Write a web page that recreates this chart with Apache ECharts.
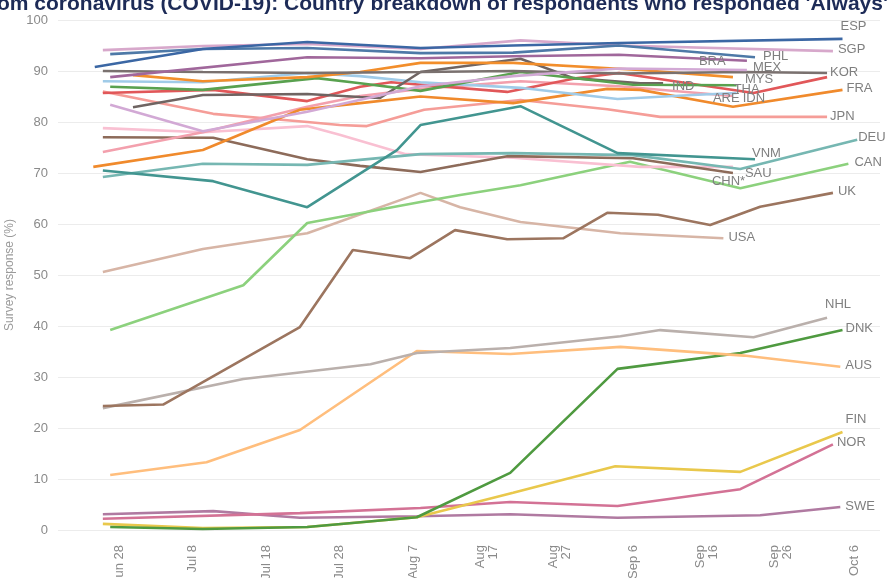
<!DOCTYPE html>
<html><head><meta charset="utf-8">
<script src="https://cdn.jsdelivr.net/npm/echarts@6/dist/echarts.min.js"></script>
<style>html,body{margin:0;padding:0;background:#fff}#c{width:887px;height:578px}</style>
</head><body><div id="c"></div>
<script>
// x = days after 28 June, y = % answering "Always"
const tickDays = [0,10,20,30,40,50,60,70,80,90,100];
const tickLabels = ['Jun 28','Jul 8','Jul 18','Jul 28','Aug 7','Aug\n17','Aug\n27','Sep 6','Sep\n16','Sep\n26','Oct 6'];
const yTicks = [0,10,20,30,40,50,60,70,80,90,100];

const ESP = [[-3.3,90.8],[11.4,94.3],[25.6,95.7],[41,94.5],[53.6,95],[68,95.5],[98.4,96.3]];
const PHL = [[-1.2,93.3],[11.4,94.3],[25.6,94.5],[41,93.5],[53.6,93.6],[68,95],[86.5,92.7]];
const SGP = [[-2.2,94.1],[11.4,94.9],[25.6,95.3],[41,94.3],[54.6,96],[68,95],[97.1,93.9]];
const BRA = [[-1.2,88.8],[25.6,92.7],[41,92.5],[53.6,92.9],[68,93.2],[85.4,92]];
const MEX = [[-1.2,83.4],[11.4,78.2],[25.6,82],[41,87],[53.6,89],[68,90.5],[85.4,90.2]];
const KOR = [[-2.2,90],[11.4,89.8],[25.6,89.6],[41,89.8],[53.6,90],[68,89.5],[85,89.8],[96.3,89.6]];
const MYS = [[1.9,89.2],[11.4,88],[25.6,88.8],[32.8,89.8],[41,91.6],[53.6,91.6],[70.9,90.2],[83.5,88.8]];
const THA = [[-1.2,86.9],[11.4,86.3],[26.9,88.6],[32.8,87.6],[41,86.1],[54.6,89.8],[69.9,87.3],[84,87.2]];
const IND = [[1.9,82.9],[11.4,85.3],[25.6,85.5],[32.8,84.9],[35.5,84.7],[41,89.8],[54.6,92.4],[61.8,88.6],[70.9,87.6],[74,87.6]];
const ARE = [[-2.2,74.1],[11.4,78],[25.6,83],[32.8,85.1],[41,86.5],[54.6,88],[68,87],[83.5,85.1]];
const IDN = [[-2.2,88],[11.4,87.8],[25.6,89.6],[32.8,89],[41,87.8],[54.6,86.7],[67.8,84.5],[78,85.3],[84,85.7]];
const FRA = [[-3.5,71.2],[11.4,74.5],[24.6,82.4],[32.8,83.7],[41,85],[53.6,83.7],[66.4,86.5],[70.9,86.3],[83.5,83],[98.4,86.3]];
const JPN = [[-2.2,86],[12.8,81.6],[25.6,80],[30,79.4],[33.7,79.2],[41.5,82.4],[54.6,84.3],[66.4,82.5],[73.6,81],[96.3,81]];
const ITA = [[-2.2,85.7],[12.8,86.3],[25.6,84.1],[32.8,86.9],[37,87.8],[52.8,85.9],[61.8,88.5],[68,89.6],[86.3,85.7],[96.3,88.8]];
const DEU = [[-2.2,69.2],[11.4,71.8],[25.6,71.6],[41,73.7],[53.6,73.9],[69.9,73.5],[84.5,70.8],[100.4,76.5]];
const VNM = [[-2.2,70.5],[12.8,68.4],[25.6,63.3],[37.8,74.5],[41,79.4],[54.6,83.1],[67.8,73.9],[86.5,72.7]];
const CAN = [[-1.2,39.2],[16.9,48],[25.6,60.2],[41,64.3],[46.4,65.7],[54.6,67.6],[69.5,72.2],[84.5,67],[99.2,71.8]];
const SAU = [[-2.2,77],[12.8,76.9],[25.6,72.7],[32.8,71.4],[35.5,71],[41,70.2],[46.4,71.6],[52.8,73.3],[69.9,72.9],[83.5,70]];
const CHN = [[-2.2,78.8],[11.4,78],[25.6,79.2],[30,77.5],[39,73.7],[53.6,73],[70.9,71.2],[83.5,71.2]];
const UK  = [[-2.2,24.3],[6,24.6],[24.6,39.8],[31.8,54.9],[39.6,53.3],[45.7,58.8],[52.8,57],[60.4,57.2],[66.4,62.2],[73.3,61.8],[80.4,59.8],[87.2,63.4],[97.1,66.1]];
const USA = [[-2.2,50.6],[11.4,55.1],[25.6,58.2],[41,66.1],[46.4,63.3],[54.6,60.4],[68.2,58.2],[82.2,57.2]];
const NHL = [[-2.2,23.9],[16.9,29.6],[34.2,32.5],[40.5,34.7],[53.2,35.7],[68.2,38],[73.6,39.2],[86.3,37.8],[96.3,41.6]];
const AUS = [[-1.2,10.8],[11.9,13.3],[24.6,19.6],[40.5,35.1],[53.2,34.5],[68.2,35.9],[85,34.2],[98.1,32]];
const DNK = [[-1.2,0.6],[11.4,0.2],[25.6,0.6],[40.5,2.5],[53.2,11.2],[67.8,31.6],[84.5,34.7],[98.4,39.2]];
const FIN = [[-2.2,1.2],[11.4,0.4],[25.6,0.6],[40.5,2.5],[53.6,7.3],[67.5,12.5],[84.5,11.4],[98.4,19.2]];
const NOR = [[-2.2,2.2],[24.6,3.3],[41,4.3],[53.2,5.5],[67.8,4.7],[84.5,8],[97.1,16.8]];
const SWE = [[-2.2,3.1],[12.8,3.7],[24.6,2.4],[40.5,2.7],[53.2,3.1],[67.8,2.4],[87.2,2.9],[98.1,4.5]];

// [label, data, colour, label offset]
const lines = [
  ['SWE', SWE, '#b07aa1', [1,-1]],
  ['NOR', NOR, '#d37295', [0,-2]],
  ['FIN', FIN, '#e9c84c', [-1,-13]],
  ['DNK', DNK, '#4f9a40', [-1,-2]],
  ['AUS', AUS, '#ffbe7d', [1,-1]],
  ['NHL', NHL, '#bab0ac', [-6,-13]],
  ['USA', USA, '#d7b5a6', [1,-1]],
  ['UK',  UK,  '#9c755f', [1,-1]],
  ['CAN', CAN, '#8cd17d', [2,-1]],
  ['CHN*', CHN, '#f9c0d2', [-25,15]],
  ['SAU', SAU, '#8d6b5a', [8,0]],
  ['DEU', DEU, '#76b7b2', [-3,-2]],
  ['VNM', VNM, '#429590', [-7,-6]],
  ['JPN', JPN, '#f59d98', [-1,0]],
  ['ARE', ARE, '#f3a0ad', [-24,2]],
  ['FRA', FRA, '#f08a2c', [0,-1]],
  ['', ITA, '#e15759', [0,0]],
  ['IDN', IDN, '#a0cbe8', [2,5]],
  ['IND', IND, '#6f6462', [5,3]],
  ['THA', THA, '#59a14f', [-7,4]],
  ['MYS', MYS, '#f28e2b', [8,2]],
  ['KOR', KOR, '#7a716f', [-1,-1]],
  ['MEX', MEX, '#d2a9d5', [2,-3]],
  ['BRA', BRA, '#a0679b', [-52,1]],
  ['SGP', SGP, '#d7a8cb', [1,-2]],
  ['PHL', PHL, '#4e79a7', [4,-1]],
  ['ESP', ESP, '#3b67a4', [-6,-12]]
];

const chart = echarts.init(document.getElementById('c'), null, {renderer:'canvas'});
chart.setOption({
  animation: false,
  grid: {left: 58, right: 7, top: 20, bottom: 48, containLabel: false, outerBoundsMode: 'none'},
  graphic: [{
    type: 'text', left: -3, top: -6,
    style: {text: "om coronavirus (COVID-19): Country breakdown of respondents who responded 'Always'",
            font: 'bold 21px "Liberation Sans"', fill: '#1d2b57'}
  }],
  xAxis: {
    type: 'value', min: -8.3, max: 103.5,
    axisLine: {show: false}, axisTick: {show: false}, splitLine: {show: false},
    axisLabel: {
      customValues: tickDays, rotate: 90, margin: 15,
      color: '#8a8a8a', fontSize: 13, fontFamily: 'Liberation Sans', lineHeight: 13,
      formatter: v => tickLabels[tickDays.indexOf(v)] || ''
    }
  },
  yAxis: {
    type: 'value', min: 0, max: 100, interval: 10,
    name: 'Survey response (%)', nameLocation: 'middle', nameGap: 34,
    nameTextStyle: {color: '#9a9a9a', fontSize: 12, fontFamily: 'Liberation Sans'},
    axisLine: {show: false}, axisTick: {show: false},
    axisLabel: {color: '#8a8a8a', fontSize: 13, fontFamily: 'Liberation Sans', margin: 10},
    splitLine: {lineStyle: {color: '#ececec', width: 1}}
  },
  series: lines.map(([name, data, color, off]) => ({
    type: 'line', name: name, data: data, showSymbol: false, symbol: 'none',
    lineStyle: {color: color, width: 2.6}, itemStyle: {color: color},
    emphasis: {disabled: true},
    endLabel: {show: name !== '', formatter: name, offset: off, distance: 4,
               color: '#7f7f7f', fontSize: 13, fontFamily: 'Liberation Sans'}
  }))
});
</script></body></html>
